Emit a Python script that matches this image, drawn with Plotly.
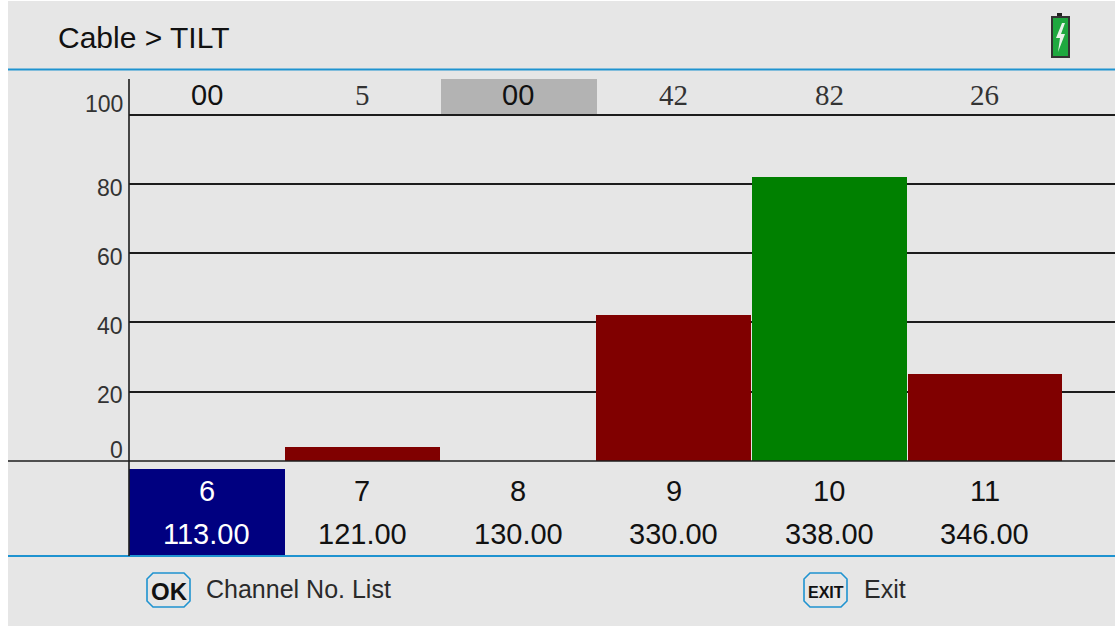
import plotly.graph_objects as go

channels = ["6", "7", "8", "9", "10", "11"]
frequencies = ["113.00", "121.00", "130.00", "330.00", "338.00", "346.00"]
top_labels = ["00", "5", "00", "42", "82", "26"]
bar_values = [0, 4, 0, 42, 82, 25]
bar_colors = ["#800000", "#800000", "#800000", "#800000", "#008000", "#800000"]
y_ticks = [100, 80, 60, 40, 20, 0]
y_tick_shift = [11, -4, -4, -4, -3, 11]

W, H = 1115, 626
SANS = "Liberation Sans"
SERIF = "Liberation Serif"
INK = "#111111"
BLUE = "#1f93d0"
LINE = "#1c1c1c"


def px(x):
    return x / W


def py(y):
    return 1 - y / H


def rect(x0, y0, x1, y1, fill, line=None, lw=0):
    return dict(type="rect", xref="paper", yref="paper", x0=px(x0), x1=px(x1), y0=py(y0), y1=py(y1),
                fillcolor=fill, line=dict(color=line or fill, width=lw), layer="below")


def seg(x0, y0, x1, y1, color, w, layer="below"):
    return dict(type="line", xref="paper", yref="paper", x0=px(x0), x1=px(x1), y0=py(y0), y1=py(y1),
                line=dict(color=color, width=w), layer=layer)


def poly(points, fill, line, w=0):
    d = "M " + " L ".join(f"{px(a):.5f},{py(b):.5f}" for a, b in points) + " Z"
    return dict(type="path", xref="paper", yref="paper", path=d, fillcolor=fill,
                line=dict(color=line, width=w), layer="above")


def key(x0, y0, x1, y1):
    c = 6
    return poly([(x0 + c, y0), (x1 - c, y0), (x1, y0 + c), (x1, y1 - c), (x1 - c, y1), (x0 + c, y1),
                 (x0, y1 - c), (x0, y0 + c)], "rgba(0,0,0,0)", BLUE, 1.6)


def text(s, x, y, size, color=INK, family=SANS, anchor="center", bold=False):
    return dict(text=f"<b>{s}</b>" if bold else s, xref="paper", yref="paper", x=px(x), y=py(y),
                xanchor=anchor, yanchor="middle", showarrow=False, borderpad=0,
                font=dict(size=size, color=color, family=family))


fig = go.Figure(go.Bar(x=list(range(len(channels))), y=bar_values, marker=dict(color=bar_colors, line=dict(width=0)),
                       width=0.995, hoverinfo="skip"))

shapes = [
    rect(8, 1, 1115, 626, "#e6e6e6"),
    rect(441, 79, 597, 114, "#b3b3b3"),
    rect(129, 469, 285, 556, "#000080"),
    seg(8, 69.5, 1115, 69.5, BLUE, 1.8),
    seg(8, 556, 1115, 556, BLUE, 1.8),
    seg(8, 461, 1115, 461, LINE, 1.6, "above"),
    seg(129, 79, 129, 556, LINE, 1.6),
    rect(1057, 13, 1062, 18, "#222222"),
    rect(1052, 17, 1069, 57, "#1ea83f", "#333333", 2),
    poly([(1062, 23), (1056, 38), (1060, 38), (1058, 52), (1065, 34), (1061, 34), (1065, 23)], "#e8f3ea", "#e8f3ea"),
    key(147, 573, 190, 607),
    key(804, 573, 847, 607),
]

annotations = [
    text("Cable &gt; TILT", 57, 37, 30, anchor="left"),
    text("OK", 169, 591, 24, "#111111", bold=True),
    text("EXIT", 825.5, 592, 16, "#111111", bold=True),
    text("Channel No. List", 205, 589, 25, "#2a2a2a", anchor="left"),
    text("Exit", 863, 589, 25, "#2a2a2a", anchor="left"),
]

for v, s in zip(y_ticks, y_tick_shift):
    annotations.append(dict(text=str(v), xref="paper", yref="y", x=px(124), y=v, yshift=s, xanchor="right",
                            yanchor="middle", showarrow=False, borderpad=0,
                            font=dict(size=23, color="#333333", family=SANS)))

for i, (ch, fr, top) in enumerate(zip(channels, frequencies, top_labels)):
    cx = 207 + i * 155.6
    c = "#ffffff" if i == 0 else INK
    fam = SANS if top == "00" else SERIF
    annotations.append(dict(text=top, xref="x", yref="paper", x=i, y=py(95), xanchor="center", yanchor="middle",
                            showarrow=False, borderpad=0, font=dict(size=29, color="#111111" if top == "00" else "#333333", family=fam)))
    annotations.append(dict(text=ch, xref="x", yref="paper", x=i, y=py(491), xanchor="center", yanchor="middle",
                            showarrow=False, borderpad=0, font=dict(size=29, color=c, family=SANS)))
    annotations.append(dict(text=fr, xref="x", yref="paper", x=i, y=py(534), xanchor="center", yanchor="middle",
                            showarrow=False, borderpad=0, font=dict(size=29, color=c, family=SANS)))

fig.update_layout(
    width=W, height=H, margin=dict(l=0, r=0, t=0, b=0, pad=0),
    paper_bgcolor="#ffffff", plot_bgcolor="rgba(0,0,0,0)",
    showlegend=False, bargap=0, shapes=shapes, annotations=annotations,
    xaxis=dict(domain=[px(129), 1], range=[-0.5, (W - 207) / 155.6], showgrid=False, zeroline=False,
               showticklabels=False, ticks="", showline=False, fixedrange=True),
    yaxis=dict(domain=[0, 1], range=[(461 - H) / 3.465, 461 / 3.465], tickvals=[20, 40, 60, 80, 100],
               showgrid=True, gridcolor=LINE, gridwidth=1.6, zeroline=False, showticklabels=False, ticks="",
               showline=False, fixedrange=True),
)

fig.write_html("out.html", config=dict(displayModeBar=False),
               post_script="document.body.style.margin='0';document.body.style.overflow='hidden';")
